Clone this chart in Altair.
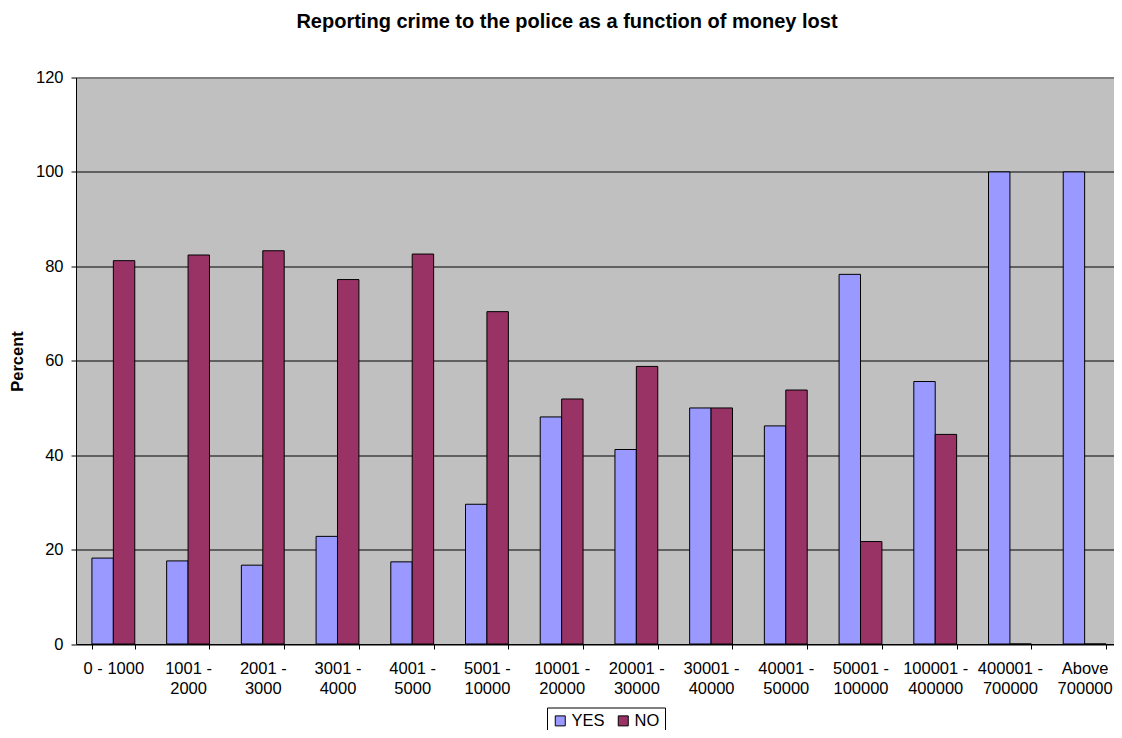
import altair as alt
import pandas as pd

categories = ["0 - 1000", "1001 -\n2000", "2001 -\n3000", "3001 -\n4000", "4001 -\n5000",
              "5001 -\n10000", "10001 -\n20000", "20001 -\n30000", "30001 -\n40000",
              "40001 -\n50000", "50001 -\n100000", "100001 -\n400000", "400001 -\n700000",
              "Above\n700000"]
yes_values = [18.2, 17.6, 16.7, 22.8, 17.4, 29.6, 48.1, 41.2, 50.0, 46.2, 78.3, 55.6, 100.0, 100.0]
no_values = [81.2, 82.4, 83.3, 77.2, 82.6, 70.4, 51.9, 58.8, 50.0, 53.8, 21.7, 44.4, 0.0, 0.0]
series = ["YES", "NO"]
colors = ["#9999FF", "#993366"]
y_ticks = [0, 20, 40, 60, 80, 100, 120]

rows = []
for i, c in enumerate(categories):
    rows.append({"cat": c, "series": "YES", "value": yes_values[i]})
    rows.append({"cat": c, "series": "NO", "value": no_values[i]})
df = pd.DataFrame(rows)

FONT = "Liberation Sans"

chart = alt.Chart(df).mark_bar(stroke="black", strokeWidth=1).encode(
    x=alt.X("cat:N", sort=categories, title=None,
            scale=alt.Scale(paddingInner=0.4267, paddingOuter=0.2133, range=[0, 1046]),
            axis=alt.Axis(labelAngle=0, labelExpr="split(datum.label, '\\n')",
                          labelFont=FONT, labelFontSize=16.5, labelColor="black",
                          labelLineHeight=20, labelPadding=11,
                          tickBand="extent", tickSize=5, tickColor="black",
                          domainColor="black", labelBaseline="top")),
    xOffset=alt.XOffset("series:N", sort=series,
                        scale=alt.Scale(paddingInner=0, paddingOuter=0)),
    y=alt.Y("value:Q", title="Percent",
            scale=alt.Scale(domain=[0, 120], nice=False),
            axis=alt.Axis(values=y_ticks, grid=True,
                          gridColor=alt.condition("datum.value == 120",
                                                  alt.value("#808080"), alt.value("black")),
                          gridWidth=alt.condition("datum.value == 120",
                                                  alt.value(2), alt.value(1)),
                          gridOpacity=1, tickSize=5, tickColor="black",
                          domainColor="black", labelFont=FONT, labelFontSize=16.5,
                          labelColor="black", labelPadding=8,
                          titleFont=FONT, titleFontSize=16.5, titleFontWeight="bold",
                          titleColor="black", titleX=-59, titleY=283.5,
                          titleAngle=270, titleAlign="center", titleBaseline="middle")),
    color=alt.Color("series:N", sort=series,
                    scale=alt.Scale(domain=series, range=colors),
                    legend=alt.Legend(title=None, orient="none", legendX=471, legendY=630,
                                      direction="horizontal", symbolType="square",
                                      symbolSize=100, symbolStrokeColor="black",
                                      symbolStrokeWidth=1, symbolOpacity=1,
                                      labelFont=FONT, labelFontSize=16.5, labelColor="black",
                                      labelOffset=3, columnPadding=10, padding=5,
                                      strokeColor="black", fillColor="white")),
).properties(
    width=1038,
    height=566.5,
    background="white",
    title=alt.TitleParams("Reporting crime to the police as a function of money lost",
                          font=FONT, fontSize=20, fontWeight="bold", color="black",
                          anchor="middle", frame="group", dx=-28, offset=38),
    autosize=alt.AutoSizeParams(type="none"),
    padding={"left": 68, "top": 69.5, "right": 0, "bottom": 86},
).configure_view(
    fill="#C0C0C0", stroke=None
)

chart.save("out.html", embed_options={"renderer": "svg", "actions": False})
